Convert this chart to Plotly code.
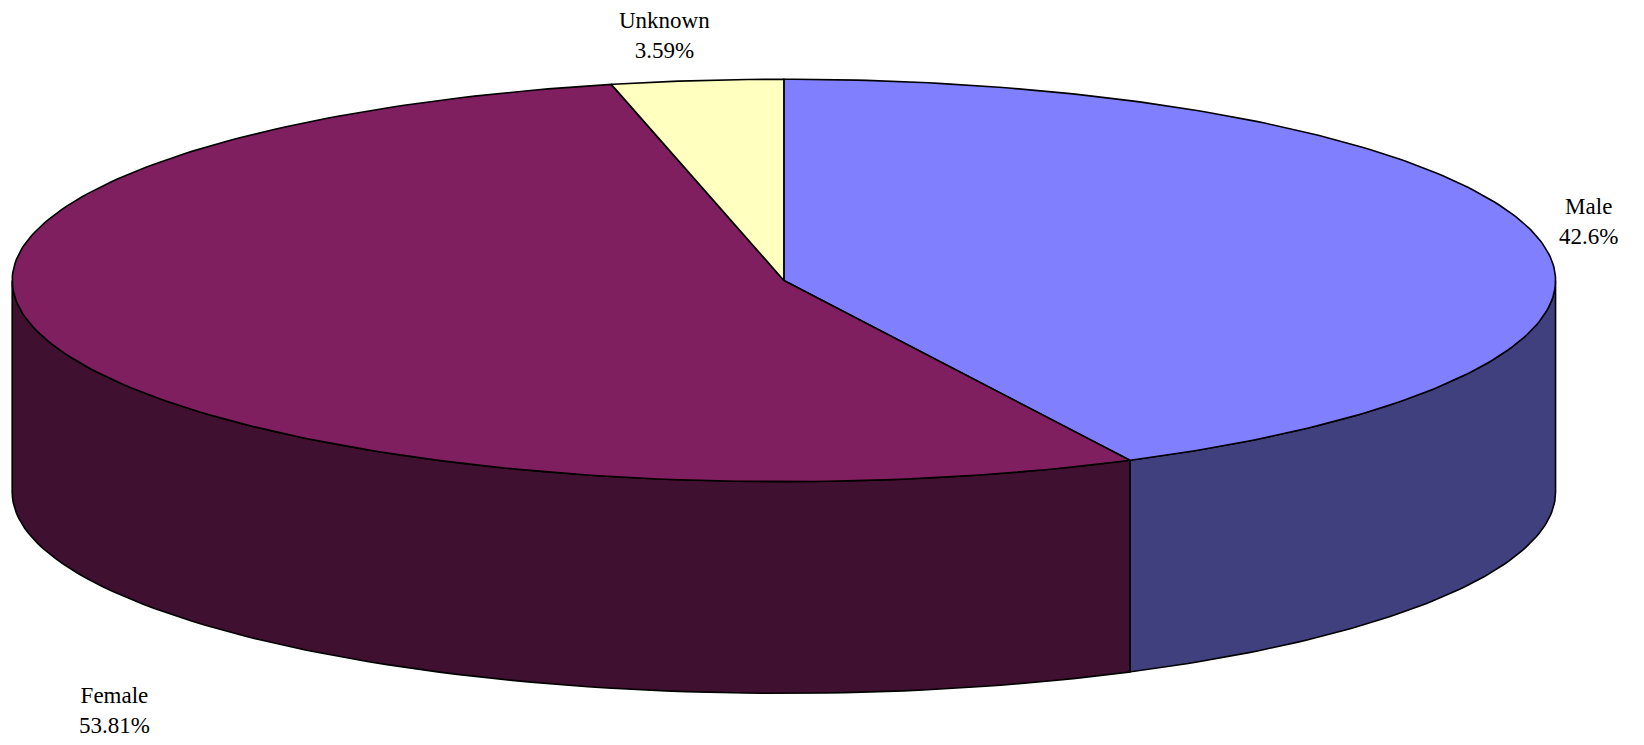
import numpy as np
import plotly.graph_objects as go

# data
labels = ["Male", "Female", "Unknown"]
values = [42.6, 53.81, 3.59]
top_colors = ["#8080FF", "#7F1F5F", "#FFFFC0"]
side_colors = ["#40407F", "#3F102F", "#80805F"]
label_pos = [(1515, 212), (110, 678), (634, 34)]

# pie geometry (in a 1568 x 711 coordinate frame)
cx, cy = 748, 268
rx, ry = 736, 192
depth = 202


def pt(a, dy=0):
    r = np.radians(a)
    return cx + rx * np.cos(r), cy - ry * np.sin(r) + dy


fig = go.Figure()

total = sum(values)
starts = []
a = 90.0
for v in values:
    a2 = a - 360.0 * v / total
    starts.append((a, a2))
    a = a2

# side walls (front half only: angles between 180 and 360)
for (a1, a2), col in zip(starts, side_colors):
    lo = min(a1, a2) % 360
    hi = lo + abs(a1 - a2)
    for off in (0, 360, -360):
        s, e = max(lo + off, 180), min(hi + off, 360)
        if e <= s:
            continue
        ang = np.linspace(s, e, 80)
        xs = [pt(t)[0] for t in ang] + [pt(t, depth)[0] for t in ang[::-1]]
        ys = [pt(t)[1] for t in ang] + [pt(t, depth)[1] for t in ang[::-1]]
        fig.add_trace(go.Scatter(x=xs + [xs[0]], y=ys + [ys[0]], fill="toself",
                                 fillcolor=col, mode="lines",
                                 line=dict(color="black", width=1.6),
                                 hoverinfo="skip", showlegend=False))

# top slices
for (a1, a2), col in zip(starts, top_colors):
    ang = np.linspace(a1, a2, 200)
    xs = [cx] + [pt(t)[0] for t in ang] + [cx]
    ys = [cy] + [pt(t)[1] for t in ang] + [cy]
    fig.add_trace(go.Scatter(x=xs, y=ys, fill="toself", fillcolor=col,
                             mode="lines", line=dict(color="black", width=1.6),
                             hoverinfo="skip", showlegend=False))

for lab, v, (lx, ly) in zip(labels, values, label_pos):
    fig.add_annotation(x=lx, y=ly, text=f"{lab}<br>{v:g}%", showarrow=False,
                       font=dict(family="Liberation Serif", size=23, color="black"))

fig.update_xaxes(range=[8, 1576], visible=False)
fig.update_yaxes(range=[719, 8], visible=False)
fig.update_layout(autosize=True, margin=dict(l=0, r=0, t=0, b=0),
                  plot_bgcolor="white", paper_bgcolor="white")
fig.write_html("out.html", default_width="100vw", default_height="100vh",
               config={"responsive": True, "displayModeBar": False})
